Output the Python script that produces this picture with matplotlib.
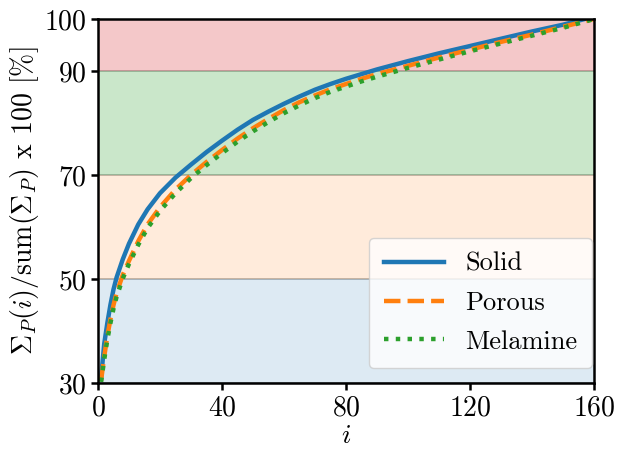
import matplotlib
matplotlib.use('Agg')
import matplotlib.pyplot as plt

# Cumulative share of singular values, read at a set of indices
idx_solid = [1, 2, 3, 4, 5, 6, 8, 10, 13, 16, 20, 25, 30, 35, 40, 45, 50, 55, 60, 65, 70,
             75, 80, 85, 90, 100, 110, 120, 130, 140, 150, 157]
solid = [31.0, 37.5, 41.5, 45.0, 48.0, 50.3, 53.8, 56.8, 60.5, 63.4, 66.5, 69.5, 72.0,
         74.4, 76.6, 78.7, 80.6, 82.2, 83.7, 85.1, 86.4, 87.5, 88.5, 89.4, 90.3, 91.9,
         93.4, 94.8, 96.2, 97.6, 98.9, 100.0]

idx_other = [1, 2, 3, 4, 5, 6, 8, 10, 13, 16, 20, 25, 30, 35, 40, 45, 50, 55, 60, 65, 70,
             75, 80, 85, 90, 100, 110, 120, 130, 140, 150, 160]
porous = [30.5, 35.0, 39.0, 42.2, 45.0, 47.3, 50.8, 53.5, 57.3, 60.5, 63.8, 67.2, 70.0,
          72.5, 74.8, 77.0, 79.0, 80.8, 82.5, 84.0, 85.3, 86.5, 87.5, 88.5, 89.4, 91.0,
          92.6, 94.1, 95.6, 97.0, 98.5, 100.0]
melamine = [30.2, 34.5, 38.3, 41.5, 44.3, 46.6, 50.1, 52.9, 56.6, 59.8, 63.1, 66.5, 69.4,
            71.9, 74.2, 76.4, 78.4, 80.2, 81.9, 83.4, 84.8, 86.0, 87.0, 88.0, 88.9, 90.6,
            92.2, 93.8, 95.3, 96.8, 98.3, 100.0]

# Shaded bands (lower, upper, colour, alpha)
bands = [(30, 50, 'tab:blue', 0.15), (50, 70, 'tab:orange', 0.15),
         (70, 90, 'tab:green', 0.25), (90, 100, 'tab:red', 0.25)]

x_ticks = [0, 40, 80, 120, 160]
y_ticks = [30, 50, 70, 90, 100]


def graph_data():
    fig = plt.figure(figsize=(6.27, 4.51), dpi=100)
    ax = fig.add_axes([0.1563, 0.1508, 0.7911, 0.8071])

    for lo, hi, col, a in bands:
        ax.axhspan(lo, hi, color=col, alpha=a, lw=0)

    ax.plot(idx_solid, solid, color='tab:blue', lw=3.2, label='Solid')
    ax.plot(idx_other, porous, color='tab:orange', lw=3.2, ls='--', label='Porous')
    ax.plot(idx_other, melamine, color='tab:green', lw=3.2, ls=':', label='Melamine')

    ax.set_xlim(0, 160)
    ax.set_ylim(30, 100)
    ax.set_xticks(x_ticks)
    ax.set_yticks(y_ticks)
    ax.yaxis.grid(True, color='#b0b0b0', lw=1.2)
    ax.set_axisbelow(True)

    for s in ax.spines.values():
        s.set_linewidth(1.8)
    ax.tick_params(width=1.8, length=5, labelsize=20)

    ax.set_xlabel('$i$', fontsize=20, labelpad=1)
    ax.set_ylabel(r'$\Sigma_P(i)/\mathrm{sum}(\Sigma_P)$ x 100 [%]', fontsize=20, labelpad=2)

    # Legend box sits tight against the right spine
    ax.legend(loc='lower right', bbox_to_anchor=(0.996, 0.041), borderaxespad=0,
              fontsize=19, handlelength=2.3, labelspacing=0.57, borderpad=0.55)

    fig.savefig('out.png', dpi=100)


def main():
    plt.rcParams['font.family'] = 'serif'
    plt.rcParams['font.serif'] = ['cmr10']
    plt.rcParams['mathtext.fontset'] = 'cm'
    plt.rcParams['axes.formatter.use_mathtext'] = True
    graph_data()


if __name__ == '__main__':
    main()
